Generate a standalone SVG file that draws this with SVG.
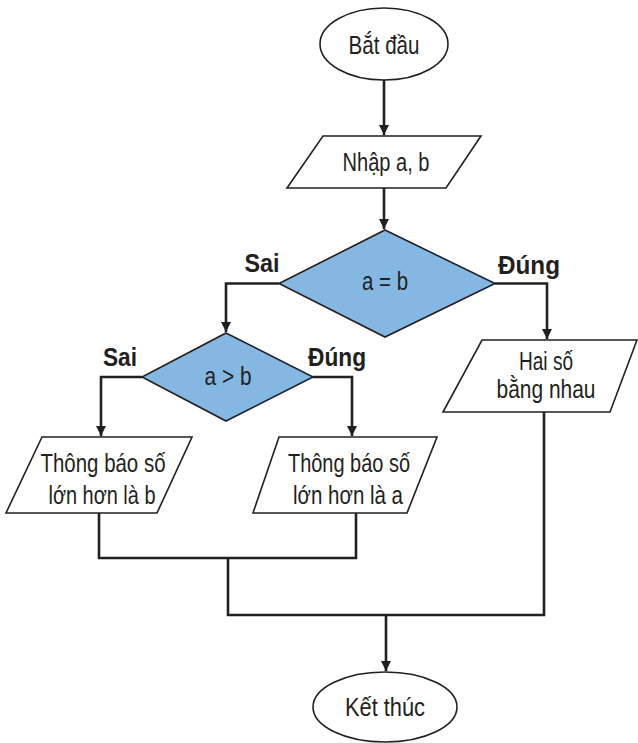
<svg xmlns="http://www.w3.org/2000/svg" width="638" height="743" viewBox="0 0 638 743">
<defs>
<marker id="arr" viewBox="0 0 10 10" refX="10" refY="5" markerWidth="4" markerHeight="4.4" orient="auto" markerUnits="strokeWidth">
<path d="M0,0 L10,5 L0,10 z" fill="#231f20"/>
</marker>
</defs>
<style>
.sh{fill:#fff;stroke:#231f20;stroke-width:1.6}
.dm{fill:#84b8e3;stroke:#231f20;stroke-width:1.6}
.t{font-family:"Liberation Sans",Arial,sans-serif;font-size:26px;fill:#231f20;text-anchor:middle}
.b{font-family:"Liberation Sans",Arial,sans-serif;font-size:25px;font-weight:bold;fill:#231f20;text-anchor:middle}
.ln{fill:none;stroke:#231f20;stroke-width:2.6}
</style>
<rect width="638" height="743" fill="#fff"/>
<g id="start">
<ellipse class="sh" cx="384" cy="44" rx="64" ry="36"/>
<text class="t" x="384" y="54" textLength="71" lengthAdjust="spacingAndGlyphs">Bắt đầu</text>
</g>
<g id="input">
<polygon class="sh" points="323,136 481,136 446,188 287,188"/>
<text class="t" x="386" y="171" textLength="87" lengthAdjust="spacingAndGlyphs">Nhập a, b</text>
</g>
<g id="cond1">
<polygon class="dm" points="385,230 495,283.5 385,337 279,283.5"/>
<text class="t" x="385" y="290" textLength="46" lengthAdjust="spacingAndGlyphs">a = b</text>
</g>
<g id="cond2">
<polygon class="dm" points="226,333 313,377 226,421 142,377"/>
<text class="t" x="228" y="385" textLength="47" lengthAdjust="spacingAndGlyphs">a &gt; b</text>
</g>
<g id="equal">
<polygon class="sh" points="482,340 637,340 610,412 443,412"/>
<text class="t" x="546" y="370" textLength="54" lengthAdjust="spacingAndGlyphs">Hai số</text>
<text class="t" x="546" y="398" textLength="99" lengthAdjust="spacingAndGlyphs">bằng nhau</text>
</g>
<g id="outb">
<polygon class="sh" points="42,437 192,437 157,513 6,513"/>
<text class="t" x="103" y="472" textLength="125" lengthAdjust="spacingAndGlyphs">Thông báo số</text>
<text class="t" x="102" y="504" textLength="107" lengthAdjust="spacingAndGlyphs">lớn hơn là b</text>
</g>
<g id="outa">
<polygon class="sh" points="279,437 437,437 407,513 253,513"/>
<text class="t" x="349" y="472" textLength="122" lengthAdjust="spacingAndGlyphs">Thông báo số</text>
<text class="t" x="348" y="504" textLength="110" lengthAdjust="spacingAndGlyphs">lớn hơn là a</text>
</g>
<g id="end">
<ellipse class="sh" cx="385" cy="707" rx="72" ry="35"/>
<text class="t" x="385" y="716" textLength="80" lengthAdjust="spacingAndGlyphs">Kết thúc</text>
</g>
<g id="connectors">
<path class="ln" d="M384,80 V135" marker-end="url(#arr)"/>
<path class="ln" d="M384,188 V229" marker-end="url(#arr)"/>
<path class="ln" d="M279,283.5 H226 V332" marker-end="url(#arr)"/>
<path class="ln" d="M495,283.5 H547 V339" marker-end="url(#arr)"/>
<path class="ln" d="M142,377 H101 V436" marker-end="url(#arr)"/>
<path class="ln" d="M313,377 H352 V436" marker-end="url(#arr)"/>
<path class="ln" d="M99,513 V558 H356 V513"/>
<path class="ln" d="M228,558 V615 H544 V412"/>
<path class="ln" d="M386,615 V671" marker-end="url(#arr)"/>
<text class="b" x="262" y="272" textLength="35" lengthAdjust="spacingAndGlyphs">Sai</text>
<text class="b" x="529" y="274" textLength="62" lengthAdjust="spacingAndGlyphs">Đúng</text>
<text class="b" x="120" y="366" textLength="34" lengthAdjust="spacingAndGlyphs">Sai</text>
<text class="b" x="337" y="366" textLength="58" lengthAdjust="spacingAndGlyphs">Đúng</text>
</g>
</svg>
